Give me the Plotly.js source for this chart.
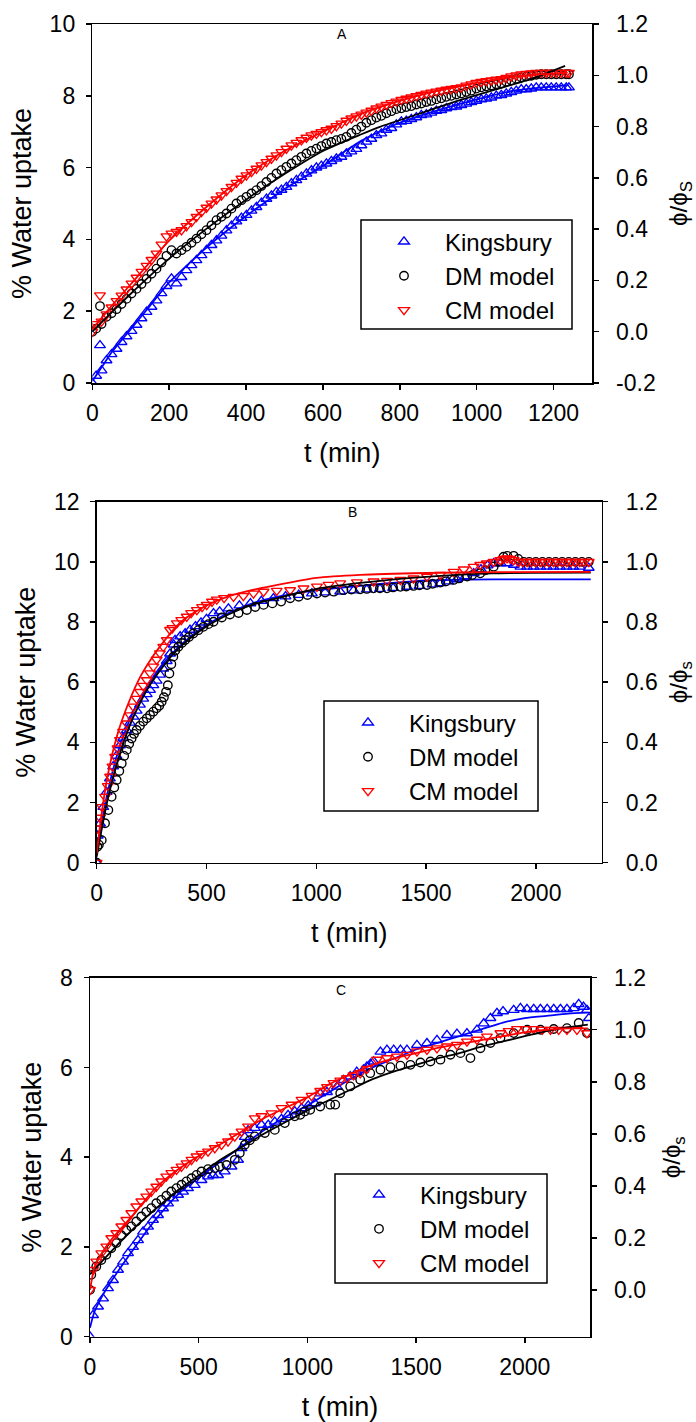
<!DOCTYPE html>
<html>
<head>
<meta charset="utf-8">
<script src="https://cdn.plot.ly/plotly-3.0.1.min.js"></script>
<style>html,body{margin:0;padding:0;background:#fff;}#chart{width:696px;height:1422px;}</style>
</head>
<body>
<div id="chart"></div>
<script>
// ---------------- Panel A ----------------
const tA = [0,10,20,24,37,50,63,76,89,102,115,128,141,154,167,180,193,206,219,232,245,258,271,284,297,310,323,336,349,362,375,388,401,414,427,440,453,466,479,492,505,518,531,544,557,570,583,596,609,622,635,648,661,674,687,700,713,726,739,752,765,778,791,804,817,830,843,856,869,882,895,908,921,934,947,960,973,986,999,1012,1025,1038,1051,1064,1077,1090,1103,1116,1129,1142,1155,1168,1181,1194,1207,1220,1233,1240];
const kingA_v = [0,0.2,1.05,0.35,0.63,0.8,0.95,1.14,1.3,1.45,
  1.62,1.8,1.98,2.12,2.3,2.5,2.7,2.91,2.77,2.95,
  3.14,3.28,3.42,3.56,3.7,3.84,3.97,4.1,4.25,4.38,
  4.5,4.6,4.68,4.8,4.9,5.02,5.13,5.22,5.32,5.38,
  5.46,5.56,5.65,5.74,5.83,5.92,6.0,6.05,6.11,6.18,
  6.25,6.3,6.39,6.45,6.52,6.62,6.72,6.8,6.9,6.95,
  7.05,7.1,7.2,7.28,7.3,7.35,7.4,7.46,7.48,7.53,
  7.58,7.6,7.65,7.68,7.7,7.74,7.78,7.82,7.86,7.9,
  7.92,7.95,8.0,8.02,8.06,8.1,8.14,8.18,8.18,8.2,
  8.23,8.23,8.23,8.23,8.23,8.23,8.23,8.23];
const dmA_phi = [0,0.012,0.10,0.03,0.058,0.072,0.088,0.108,0.128,0.149,
  0.167,0.186,0.206,0.226,0.246,0.27,0.296,0.318,0.305,0.318,
  0.331,0.347,0.363,0.38,0.396,0.415,0.435,0.448,0.461,0.48,
  0.50,0.513,0.526,0.539,0.552,0.568,0.584,0.6,0.617,0.63,
  0.643,0.656,0.669,0.682,0.695,0.705,0.714,0.724,0.734,0.74,
  0.747,0.752,0.76,0.775,0.788,0.8,0.815,0.825,0.835,0.842,
  0.852,0.86,0.868,0.871,0.876,0.88,0.886,0.89,0.896,0.90,
  0.906,0.91,0.916,0.92,0.925,0.929,0.935,0.94,0.948,0.953,
  0.957,0.96,0.965,0.968,0.975,0.98,0.986,0.991,0.995,0.998,
  1.002,1.004,1.004,1.004,1.004,1.004,1.004,1.004];
const cmA_phi = [0,0.03,0.142,0.04,0.068,0.095,0.12,0.141,0.165,0.188,
  0.211,0.234,0.257,0.28,0.305,0.34,0.372,0.383,0.39,0.396,
  0.412,0.428,0.448,0.467,0.484,0.50,0.516,0.532,0.549,0.565,
  0.581,0.597,0.61,0.623,0.636,0.649,0.662,0.675,0.688,0.701,
  0.714,0.727,0.737,0.747,0.757,0.766,0.772,0.779,0.786,0.792,
  0.802,0.812,0.823,0.832,0.84,0.847,0.855,0.862,0.871,0.878,
  0.885,0.892,0.898,0.904,0.909,0.914,0.919,0.924,0.929,0.933,
  0.937,0.94,0.944,0.947,0.95,0.953,0.96,0.965,0.971,0.975,
  0.978,0.98,0.983,0.985,0.99,0.996,1.0,1.004,1.006,1.008,
  1.01,1.01,1.01,1.01,1.01,1.01,1.01,1.01];
const kingA_fit_t = [0,25,50,100,150,200,300,400,500,600,700,800,900,1000,1100,1237];
const kingA_fit_v = [0.05,0.45,0.85,1.5,2.15,2.8,3.8,4.65,5.4,6.05,6.75,7.25,7.6,7.9,8.15,8.3];
const dmA_fit_t = [0,50,100,200,300,400,500,600,700,750,850,950,1050,1150,1230];
const dmA_fit_phi = [0,0.075,0.148,0.285,0.405,0.515,0.615,0.705,0.77,0.80,0.85,0.90,0.945,0.99,1.037];
const cmA_fit_t = [0,50,100,200,300,400,500,600,700,800,900,1000,1100,1237];
const cmA_fit_phi = [0.01,0.1,0.185,0.355,0.49,0.61,0.705,0.78,0.85,0.9,0.94,0.97,0.995,1.01];

// ---------------- Panel B ----------------
const kingB_t = [0,5,15,30,45,60,75,90,106,121,137,152,167,182,197,212,228,243,258,273,288,303,319,334,350,357,380,403,425,450,475,500,532,560,600,650,700,750,805,860,920,980,1040,1109,1170,1230,1290,1350,1413,1470,1530,1565,1600,1640,1680,1717,1750,1780,1808,1840,1869,1900,1930,1960,1990,2020,2050,2080,2110,2140,2170,2200,2241];
const kingB_v = [0,0.9,1.3,1.85,2.35,2.8,3.2,3.55,3.9,4.15,4.4,4.65,4.85,5.05,5.25,5.45,5.6,5.74,5.9,6.05,6.25,6.45,6.7,6.95,7.25,7.4,7.52,7.62,7.74,7.86,7.98,8.1,8.29,8.35,8.45,8.55,8.62,8.7,8.79,8.85,8.9,8.95,8.98,9.01,9.05,9.08,9.1,9.13,9.17,9.2,9.25,9.29,9.35,9.42,9.52,9.62,9.75,9.88,9.95,9.95,9.95,9.9,9.84,9.84,9.84,9.84,9.84,9.84,9.84,9.84,9.84,9.84,9.8];
const dmB_t = [0,3,10,23,38,53,68,80,91,103,114,125,137,148,159,170,182,197,212,228,243,258,273,285,296,306,316,324,331,340,349,358,372,388,403,420,440,463,486,509,532,570,607,646,684,722,760,800,840,881,920,960,1003,1040,1080,1124,1160,1200,1230,1261,1290,1322,1350,1383,1410,1443,1470,1504,1530,1565,1590,1626,1650,1687,1710,1747,1770,1808,1830,1853,1870,1899,1920,1945,1970,2000,2030,2060,2090,2120,2150,2180,2210,2241];
const dmB_phi = [0,0.053,0.06,0.075,0.131,0.175,0.219,0.25,0.275,0.305,0.33,0.355,0.375,0.395,0.413,0.428,0.441,0.455,0.469,0.48,0.491,0.502,0.513,0.522,0.535,0.55,0.568,0.59,0.629,0.66,0.685,0.705,0.718,0.73,0.74,0.75,0.762,0.773,0.784,0.793,0.801,0.815,0.825,0.83,0.84,0.85,0.857,0.862,0.868,0.879,0.884,0.89,0.895,0.898,0.901,0.906,0.908,0.909,0.91,0.912,0.912,0.912,0.915,0.917,0.918,0.92,0.922,0.923,0.927,0.931,0.935,0.94,0.945,0.951,0.956,0.962,0.972,0.984,1.0,1.017,1.02,1.02,1.01,1.0,1.0,1.0,1.0,1.0,1.0,1.0,1.0,1.0,1.0,1.0];
const cmB_t = [0,3,15,25,38,50,61,72,84,95,106,120,137,152,167,182,197,212,228,243,258,273,288,303,319,334,345,365,385,410,430,456,480,501,525,547,580,623,668,714,760,820,881,942,1003,1056,1109,1185,1261,1322,1383,1443,1504,1565,1626,1672,1717,1747,1777,1808,1838,1853,1869,1884,1899,1920,1940,1960,1980,2000,2020,2040,2060,2080,2100,2120,2140,2160,2180,2200,2220,2241];
const cmB_phi = [0,0.114,0.15,0.185,0.219,0.255,0.286,0.32,0.352,0.38,0.408,0.435,0.463,0.49,0.519,0.545,0.568,0.588,0.607,0.63,0.652,0.675,0.696,0.718,0.74,0.774,0.78,0.796,0.807,0.818,0.83,0.84,0.85,0.857,0.868,0.875,0.88,0.884,0.887,0.895,0.901,0.904,0.906,0.912,0.918,0.924,0.929,0.932,0.935,0.937,0.94,0.945,0.951,0.957,0.967,0.975,0.984,0.99,0.995,1.0,1.006,1.01,1.012,1.01,1.006,1.0,1.0,1.0,1.0,1.0,1.0,1.0,1.0,1.0,1.0,1.0,1.0,1.0,1.0,1.0,1.0,1.0];
const kingB_fit_t = [0,20,50,100,150,200,250,300,350,400,500,600,700,800,1000,1200,1500,1800,2250];
const kingB_fit_v = [0.3,1.2,2.35,3.75,4.75,5.5,6.1,6.6,7.0,7.35,7.9,8.3,8.6,8.8,9.05,9.2,9.38,9.42,9.42];
const dmB_fit_t = [0,20,50,100,150,200,250,300,350,400,500,600,700,800,1000,1200,1500,1800,2250];
const dmB_fit_phi = [0.02,0.1,0.21,0.35,0.455,0.535,0.6,0.65,0.695,0.73,0.785,0.825,0.855,0.875,0.91,0.93,0.95,0.962,0.964];
const cmB_fit_t = [0,20,50,100,150,200,250,300,350,400,500,600,700,800,1000,1200,1500,1800,2250];
const cmB_fit_phi = [0.03,0.15,0.29,0.44,0.54,0.62,0.68,0.73,0.775,0.81,0.855,0.885,0.905,0.92,0.947,0.957,0.963,0.966,0.967];

// ---------------- Panel C ----------------
const kingC_t = [0,14,37,60,83,106,129,152,175,198,221,244,267,290,313,336,359,382,405,428,451,482,513,543,566,589,620,651,681,697,712,727,758,789,820,850,881,911,942,973,1004,1034,1059,1090,1136,1166,1197,1227,1258,1274,1290,1305,1336,1366,1397,1428,1458,1504,1550,1596,1642,1688,1734,1780,1811,1842,1872,1900,1949,1980,2010,2041,2072,2103,2133,2164,2194,2225,2248,2270,2286,2295];
const kingC_v = [0,0.48,0.67,0.85,1.08,1.26,1.49,1.67,1.86,2.0,2.15,2.34,2.45,2.6,2.71,2.86,2.97,3.08,3.16,3.23,3.31,3.38,3.49,3.57,3.6,3.6,3.68,3.79,3.94,4.2,4.45,4.6,4.65,4.72,4.72,4.79,4.85,4.94,5.02,5.09,5.15,5.2,5.42,5.45,5.57,5.72,5.8,5.9,5.95,6.02,6.08,6.13,6.35,6.39,6.39,6.39,6.39,6.5,6.54,6.61,6.72,6.75,6.76,6.84,6.98,7.1,7.21,7.25,7.28,7.32,7.3,7.3,7.3,7.3,7.3,7.3,7.3,7.32,7.41,7.35,7.28,7.1];
const dmC_t = [0,6,29,52,75,98,121,144,167,190,213,236,259,282,305,328,351,374,398,421,444,467,490,513,543,574,597,628,666,689,712,735,758,804,850,896,942,967,988,1013,1059,1105,1128,1151,1197,1243,1289,1336,1382,1428,1474,1520,1566,1612,1658,1704,1750,1796,1842,1888,1949,2011,2072,2133,2194,2248,2286];
const dmC_phi = [0,0.058,0.09,0.115,0.135,0.16,0.18,0.21,0.23,0.244,0.263,0.282,0.30,0.314,0.333,0.346,0.362,0.378,0.391,0.404,0.417,0.429,0.442,0.455,0.464,0.468,0.474,0.48,0.50,0.526,0.558,0.575,0.59,0.603,0.615,0.641,0.667,0.673,0.686,0.692,0.705,0.712,0.712,0.756,0.782,0.808,0.833,0.846,0.856,0.862,0.865,0.874,0.878,0.885,0.904,0.91,0.891,0.929,0.949,0.968,0.987,1.0,1.0,1.003,1.006,1.026,0.987];
const cmC_t = [0,14,29,52,75,98,121,144,167,190,213,236,259,282,305,328,351,374,398,421,444,467,490,513,543,574,605,635,666,697,727,758,789,835,881,927,973,1019,1059,1090,1120,1151,1182,1212,1243,1274,1320,1366,1412,1458,1504,1550,1596,1642,1688,1734,1780,1826,1888,1926,1964,2003,2041,2080,2118,2156,2194,2240,2286];
const cmC_phi = [0,0.077,0.109,0.141,0.167,0.199,0.218,0.244,0.269,0.295,0.321,0.34,0.359,0.378,0.397,0.417,0.436,0.449,0.462,0.474,0.487,0.50,0.513,0.523,0.532,0.545,0.558,0.571,0.59,0.609,0.628,0.66,0.668,0.679,0.699,0.712,0.731,0.746,0.765,0.78,0.795,0.805,0.814,0.825,0.833,0.85,0.885,0.891,0.897,0.904,0.917,0.923,0.929,0.936,0.942,0.955,0.962,0.974,0.987,0.995,1.003,1.003,1.003,1.0,1.0,1.0,1.0,1.0,0.987];
const kingC_fit_t = [0,20,50,100,200,300,400,500,600,700,800,900,1000,1100,1200,1300,1400,1500,1600,1700,1800,1900,2000,2100,2200,2290];
const kingC_fit_v = [0.2,0.55,0.85,1.25,1.95,2.6,3.15,3.55,3.9,4.25,4.6,4.9,5.15,5.45,5.75,6.0,6.2,6.4,6.55,6.7,6.85,7.0,7.1,7.15,7.2,7.22];
const dmC_fit_t = [0,50,100,200,300,400,500,600,700,800,900,1000,1100,1200,1300,1400,1500,1600,1700,1800,1900,2000,2100,2200,2290];
const dmC_fit_phi = [0.06,0.105,0.15,0.235,0.31,0.38,0.44,0.5,0.55,0.6,0.645,0.69,0.73,0.77,0.81,0.84,0.865,0.89,0.91,0.935,0.955,0.975,0.995,1.01,1.02];
const cmC_fit_t = [0,20,50,100,200,300,400,500,600,700,800,900,1000,1100,1200,1300,1400,1500,1600,1700,1800,1900,2000,2100,2200,2290];
const cmC_fit_phi = [0.0,0.085,0.135,0.195,0.29,0.39,0.46,0.515,0.56,0.61,0.66,0.7,0.74,0.79,0.83,0.865,0.89,0.91,0.93,0.945,0.96,0.975,0.99,1.0,1.005,1.005];

// ---------------- labels / ticks ----------------
const seriesNames = ["Kingsbury", "DM model", "CM model"];
const panelLetters = ["A", "B", "C"];
const xTitle = "t (min)";
const yTitle = "% Water uptake";
const rightTitles = ["ϕ/ϕ<sub>S</sub>", "ϕ/ϕ<sub>s</sub>", "ϕ/ϕ<sub>s</sub>"];
const rightTickValsA = [-0.2,0,0.2,0.4,0.6,0.8,1.0,1.2];
const rightTickTextA = ["-0.2","0.0","0.2","0.4","0.6","0.8","1.0","1.2"];
const rightTickValsBC = [0,0.2,0.4,0.6,0.8,1.0,1.2];
const rightTickTextBC = ["0.0","0.2","0.4","0.6","0.8","1.0","1.2"];

// ---------------- styling ----------------
const FONT = "Liberation Sans, Arial, sans-serif";
const BLUE = "#0000ff", BLACK = "#000000", RED = "#ff0000";
const W = 696, H = 1422;
function dom(a, b, total) { return [a / total, b / total]; }
function ydom(top, bottom) { return [(H - bottom) / H, (H - top) / H]; }

const traces = [];
function addPanel(xa, yl, yr, legendId, d) {
  const mk = (t, y, ya, sym, col, name, size) => ({
    x: t, y: y, xaxis: xa, yaxis: ya, type: "scatter", mode: "markers", name: name,
    legend: legendId, showlegend: true, cliponaxis: true, hoverinfo: "skip",
    marker: { symbol: sym, size: size, color: col, line: { color: col, width: 1.35 } }
  });
  const ln = (t, y, ya, col) => ({
    x: t, y: y, xaxis: xa, yaxis: ya, type: "scatter", mode: "lines", showlegend: false,
    line: { color: col, width: 1.8, shape: "spline", smoothing: 0.6 }, hoverinfo: "skip"
  });
  traces.push(mk(d.kt, d.kv, yl, "triangle-up-open", BLUE, seriesNames[0], 9.5));
  traces.push(mk(d.dt, d.dv, yr, "circle-open", BLACK, seriesNames[1], 8.5));
  traces.push(mk(d.ct, d.cv, yr, "triangle-down-open", RED, seriesNames[2], 9.5));
  traces.push(ln(d.kft, d.kfv, yl, BLUE));
  traces.push(ln(d.dft, d.dfv, yr, BLACK));
  traces.push(ln(d.cft, d.cfv, yr, RED));
}
addPanel("x", "y", "y2", "legend", {kt:tA,kv:kingA_v,dt:tA,dv:dmA_phi,ct:tA,cv:cmA_phi,kft:kingA_fit_t,kfv:kingA_fit_v,dft:dmA_fit_t,dfv:dmA_fit_phi,cft:cmA_fit_t,cfv:cmA_fit_phi});
addPanel("x2", "y3", "y4", "legend2", {kt:kingB_t,kv:kingB_v,dt:dmB_t,dv:dmB_phi,ct:cmB_t,cv:cmB_phi,kft:kingB_fit_t,kfv:kingB_fit_v,dft:dmB_fit_t,dfv:dmB_fit_phi,cft:cmB_fit_t,cfv:cmB_fit_phi});
addPanel("x3", "y5", "y6", "legend3", {kt:kingC_t,kv:kingC_v,dt:dmC_t,dv:dmC_phi,ct:cmC_t,cv:cmC_phi,kft:kingC_fit_t,kfv:kingC_fit_v,dft:dmC_fit_t,dfv:dmC_fit_phi,cft:cmC_fit_t,cfv:cmC_fit_phi});

const tickFont = { family: FONT, size: 23, color: "black" };
const base = {
  showline: true, linecolor: "black", linewidth: 1.5, ticks: "outside", ticklen: 5, tickwidth: 1.5,
  tickcolor: "black", showgrid: false, zeroline: false, tickfont: tickFont, automargin: false, fixedrange: true
};
function xAx(domain, range, dtick, anchor) {
  return Object.assign({}, base, { domain: domain, range: range, dtick: dtick, tick0: 0, anchor: anchor, mirror: true,
    ticklabelstandoff: 4,
    title: { text: xTitle, font: { family: FONT, size: 27, color: "black" }, standoff: 18 } });
}
function yL(domain, range, dtick, anchor) {
  return Object.assign({}, base, { domain: domain, range: range, dtick: dtick, tick0: 0, anchor: anchor, side: "left",
    ticklabelstandoff: 6,
    title: { text: yTitle, font: { family: FONT, size: 27, color: "black" }, standoff: 10 } });
}
function yR(overlay, range, vals, text, anchor, title) {
  return Object.assign({}, base, { overlaying: overlay, range: range, tickmode: "array", tickvals: vals, ticktext: text,
    anchor: anchor, side: "right", ticklabelstandoff: 13,
    title: { text: title, font: { family: FONT, size: 24, color: "black" }, standoff: 18 } });
}

const legendBase = {
  xanchor: "left", yanchor: "top", bgcolor: "rgba(0,0,0,0)", borderwidth: 0,
  font: { family: FONT, size: 24, color: "black" }, itemwidth: 72,
  tracegroupgap: 0, itemclick: false, itemdoubleclick: false
};
// legend frames (px): left, top, right, bottom
const legendFrames = [[361, 220, 572, 329], [324, 701, 538, 811], [335, 1174, 547, 1283]];
const frameShapes = legendFrames.map(f => ({
  type: "rect", xref: "paper", yref: "paper", x0: f[0] / W, x1: f[2] / W, y0: 1 - f[3] / H, y1: 1 - f[1] / H,
  line: { color: "black", width: 1.5 }, fillcolor: "white", layer: "above"
}));

const letterFont = { family: FONT, size: 14, color: "black" };
const layout = {
  width: W, height: H, margin: { l: 0, r: 0, t: 0, b: 0 },
  paper_bgcolor: "white", plot_bgcolor: "white", showlegend: true,
  font: { family: FONT, color: "black" },
  xaxis: xAx(dom(92.3, 592, W), [0, 1300], 200, "y"),
  yaxis: yL(ydom(24, 383), [0, 10], 2, "x"),
  yaxis2: yR("y", [-0.2, 1.2], rightTickValsA, rightTickTextA, "x", rightTitles[0]),
  xaxis2: xAx(dom(96.7, 601.7, W), [0, 2300], 500, "y3"),
  yaxis3: yL(ydom(501.7, 862.7), [0, 12], 2, "x2"),
  yaxis4: yR("y3", [0, 1.2], rightTickValsBC, rightTickTextBC, "x2", rightTitles[1]),
  xaxis3: xAx(dom(90, 590, W), [0, 2300], 500, "y5"),
  yaxis5: yL(ydom(977.7, 1336.7), [0, 8], 2, "x3"),
  yaxis6: yR("y5", [-0.18, 1.2], rightTickValsBC, rightTickTextBC, "x3", rightTitles[2]),
  legend: Object.assign({}, legendBase, { x: 363 / W, y: 1 - 219.5 / H }),
  legend2: Object.assign({}, legendBase, { x: 327 / W, y: 1 - 700.5 / H }),
  legend3: Object.assign({}, legendBase, { x: 338 / W, y: 1 - 1172.5 / H }),
  shapes: frameShapes,
  annotations: [
    { text: panelLetters[0], xref: "paper", yref: "paper", x: 342 / W, y: 1 - 34 / H, xanchor: "center", yanchor: "middle", showarrow: false, font: letterFont },
    { text: panelLetters[1], xref: "paper", yref: "paper", x: 352 / W, y: 1 - 512 / H, xanchor: "center", yanchor: "middle", showarrow: false, font: letterFont },
    { text: panelLetters[2], xref: "paper", yref: "paper", x: 341 / W, y: 1 - 990 / H, xanchor: "center", yanchor: "middle", showarrow: false, font: letterFont }
  ]
};

Plotly.newPlot("chart", traces, layout, { staticPlot: true, displayModeBar: false });
</script>
</body>
</html>
